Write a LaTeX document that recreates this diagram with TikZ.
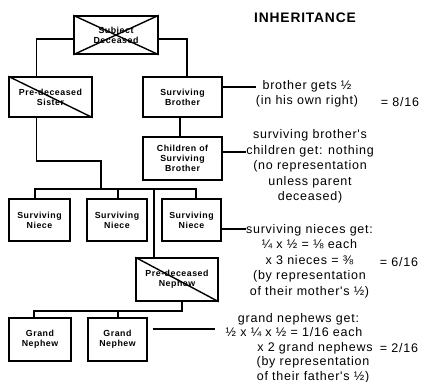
\documentclass[tikz,border=0pt]{standalone}
\usepackage{fontspec}
\setmainfont{Liberation Sans}
\newfontfamily\boxfont[LetterSpace=6]{Liberation Sans}
\newfontfamily\notefont[LetterSpace=6]{Liberation Sans}

\tikzset{
  person/.style={draw,line width=1.4pt,rectangle,align=center,inner sep=0pt,
    font=\boxfont\bfseries\fontsize{8.8}{10}\selectfont},
  link/.style={line width=1.3pt},
  note/.style={align=center,inner sep=0pt,font=\notefont\fontsize{12.5}{15.5}\selectfont},
}

\begin{document}
\begin{tikzpicture}[x=1pt,y=-1pt]
\useasboundingbox (0,0) rectangle (422,381);

\node[font=\notefont\bfseries\fontsize{13.8}{16}\selectfont] (title) at (305,18) {INHERITANCE};

% family boxes
\node[person,minimum width=84pt,minimum height=38pt] (subj) at (116,35) {Subject\\Deceased};
\node[person,minimum width=83pt,minimum height=40pt] (sis) at (50.5,97) {Pre-deceased\\Sister};
\node[person,minimum width=79pt,minimum height=40pt] (bro) at (182.5,97) {Surviving\\Brother};
\node[person,minimum width=79pt,minimum height=43pt] (chld) at (182.5,158.5) {Children of\\Surviving\\Brother};
\node[person,minimum width=61pt,minimum height=42pt] (n1) at (39.5,220) {Surviving\\Niece};
\node[person,minimum width=60pt,minimum height=42pt] (n2) at (117,220) {Surviving\\Niece};
\node[person,minimum width=59pt,minimum height=42pt] (n3) at (191.5,220) {Surviving\\Niece};
\node[person,minimum width=82pt,minimum height=43pt] (neph) at (177,279.5) {Pre-deceased\\Nephew};
\node[person,minimum width=62pt,minimum height=43pt] (g1) at (40,339.5) {Grand\\Nephew};
\node[person,minimum width=59pt,minimum height=43pt] (g2) at (117.5,339.5) {Grand\\Nephew};

% crossed out
\draw[line width=1.4pt] (subj.north west) -- (subj.south east) (subj.south west) -- (subj.north east);
\draw[line width=1.4pt] (sis.north west) -- (sis.south east);
\draw[line width=1.4pt] (neph.north west) -- (neph.south east);

% tree lines
\coordinate (sbend) at (101,161);
\coordinate (bus) at (101,189);
\coordinate (nbus) at (154,189);
\coordinate (gbus) at (182,311);
\draw[link] ([yshift=-4pt]subj.west) -| ([xshift=-14pt]sis.north);
\draw[link] ([yshift=-4pt]subj.east) -| ([xshift=4.5pt]bro.north);
\draw[link] ([xshift=-2.5pt]bro.south) -- ([xshift=-2.5pt]chld.north);
\draw[link] ([xshift=-14pt]sis.south) |- (sbend) -- (bus);
\draw[link] ([xshift=-4.5pt]n1.north) |- (bus) -| ([xshift=4.5pt]n3.north);
\draw[link] ([xshift=1pt]n2.north) -- ([xshift=1pt]n2.north |- bus);
\draw[link] (nbus) -- (nbus |- neph.north);
\draw[link] ([xshift=5pt]neph.south) -- (gbus) -| ([xshift=-6pt]g1.north);
\draw[link] ([xshift=0.5pt]g2.north) -- ([xshift=0.5pt]g2.north |- gbus);

% notes
\node[note] (tbro) at (307,94) {brother gets ½\\(in his own right)};
\node[note] (v8) at (400,102) {= 8/16};
\node[note] (tchl) at (310,166.5) {surviving brother's\\children get: nothing\\(no representation\\unless parent\\deceased)};
\node[note] (tnie) at (309.5,261) {surviving nieces get:\\¼ x ½ = ⅛ each\\x 3 nieces = ⅜\hspace*{20pt}\\(by representation\\of their mother's ½)};
\node[note] (v6) at (399,262) {= 6/16};
\node[note,font=\notefont\fontsize{12.5}{14.5}\selectfont] (tgn) at (294,348) {\hspace*{9pt}grand nephews get:\\½ x ¼ x ½ = 1/16 each\\\hspace*{42pt}x 2 grand nephews\\\hspace*{38pt}(by representation\\\hspace*{38pt}of their father's ½)};
\node[note] (v2) at (399,348) {= 2/16};

% leaders
\draw[link] ([yshift=10pt]bro.east) -- ([yshift=10pt]bro.east -| tbro.west);
\draw[link] ([yshift=6.5pt]chld.east) -- ([yshift=6.5pt]chld.east -| tchl.west);
\draw[link] ([yshift=-9pt]n3.east) -- ([yshift=-9pt]n3.east -| tnie.west);
\draw[link] ([xshift=5pt,yshift=10.5pt]g2.east) -- ([yshift=10.5pt]g2.east -| tgn.west);
\end{tikzpicture}
\end{document}
